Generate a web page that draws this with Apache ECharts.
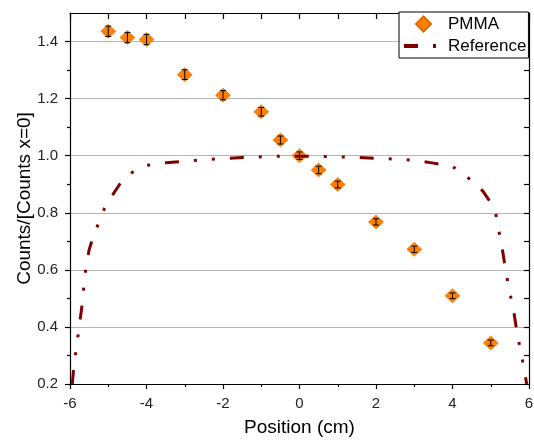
<!DOCTYPE html>
<html>
<head>
<meta charset="utf-8">
<script src="https://cdn.jsdelivr.net/npm/echarts@6/dist/echarts.min.js"></script>
<style>
  html, body { margin: 0; padding: 0; background: #fff; }
  #chart { width: 534px; height: 441px; }
</style>
</head>
<body>
<div id="chart"></div>
<script>
// Measured PMMA profile, normalised to the count at x = 0
const pmmaX   = [-5, -4.5, -4, -3, -2, -1, -0.5, 0, 0.5, 1, 2, 3, 4, 5];
const pmmaY   = [1.436, 1.414, 1.407, 1.284, 1.212, 1.154, 1.055, 1.0, 0.95, 0.899, 0.768, 0.672, 0.509, 0.344];
const pmmaErr = [0.018, 0.018, 0.018, 0.017, 0.016, 0.015, 0.014, 0.013, 0.013, 0.012, 0.011, 0.011, 0.010, 0.010];

// Reference profile
const refX = [-5.94, -5.9, -5.8, -5.7, -5.6, -5.5, -5.4, -5.25, -5.1, -4.9, -4.7, -4.5, -4.3, -4.0, -3.5, -3.0, -2.5, -2.0, -1.5, -1.0, -0.5, 0, 0.5, 1.0, 1.5, 2.0, 2.5, 3.0, 3.5, 4.0, 4.3, 4.6, 4.8, 5.0, 5.12, 5.2, 5.3, 5.4, 5.5, 5.6, 5.7, 5.8, 5.9, 5.94];
const refY = [0.2, 0.26, 0.36, 0.46, 0.59, 0.67, 0.715, 0.764, 0.815, 0.86, 0.9, 0.93, 0.948, 0.966, 0.975, 0.981, 0.986, 0.99, 0.994, 0.996, 0.998, 0.998, 0.998, 0.996, 0.994, 0.991, 0.988, 0.984, 0.974, 0.962, 0.935, 0.9, 0.875, 0.835, 0.805, 0.745, 0.675, 0.59, 0.52, 0.455, 0.37, 0.305, 0.23, 0.2];

// Axis ticks
const xMajor = [-6, -4, -2, 0, 2, 4, 6];
const yMajor = [0.2, 0.4, 0.6, 0.8, 1.0, 1.2, 1.4];
const yMinor = [0.3, 0.5, 0.7, 0.9, 1.1, 1.3];

const FONT = '"Liberation Sans", Arial, sans-serif';
const ORANGE = '#ff8000';
const DARKRED = '#800000';

const pmmaData = pmmaX.map((x, i) => [x, pmmaY[i]]);
const errData = pmmaX.map((x, i) => [x, pmmaY[i] - pmmaErr[i], pmmaY[i] + pmmaErr[i]]);
const refData = refX.map((x, i) => [x, refY[i]]);

const axisLine = { show: true, onZero: false, lineStyle: { color: '#000', width: 1.2 } };

const chart = echarts.init(document.getElementById('chart'), null, { renderer: 'canvas' });
chart.setOption({
  backgroundColor: '#fff',
  animation: false,
  grid: { left: 70, right: 5, top: 13, bottom: 57, containLabel: false, outerBoundsMode: 'none' },
  legend: {
    orient: 'vertical',
    left: 399, top: 12,
    padding: [3, 2, 3, 3],
    itemGap: 4,
    itemWidth: 39, itemHeight: 15,
    backgroundColor: '#fff',
    borderColor: '#000', borderWidth: 1, borderRadius: 0,
    textStyle: { fontFamily: FONT, fontSize: 17, color: '#000', lineHeight: 18 },
    data: [
      { name: 'PMMA', icon: 'path://M0,-1L1,0L0,1L-1,0Z' },
      { name: 'Reference', itemStyle: { opacity: 0 }, lineStyle: { width: 4 } }
    ]
  },
  xAxis: [
    {
      type: 'value', position: 'bottom', min: -6, max: 6, interval: 2,
      name: 'Position (cm)', nameLocation: 'middle', nameGap: 34, nameMoveOverlap: false,
      nameTextStyle: { fontFamily: FONT, fontSize: 19, color: '#000' },
      axisLine,
      axisTick: { show: true, inside: false, length: 5, lineStyle: { color: '#000', width: 1.2 } },
      minorTick: { show: true, splitNumber: 2, length: 3, lineStyle: { color: '#000', width: 1.2 } },
      axisLabel: { fontFamily: FONT, fontSize: 15, color: '#222', margin: 12, customValues: xMajor },
      splitLine: { show: false }
    },
    {
      type: 'value', position: 'top', min: -6, max: 6, interval: 1,
      axisLine,
      axisTick: { show: true, inside: true, length: 6, lineStyle: { color: '#000', width: 1.2 } },
      axisLabel: { show: false },
      splitLine: { show: false }
    }
  ],
  yAxis: [
    {
      type: 'value', position: 'left', min: 0.2, max: 1.5, interval: 0.2,
      name: 'Counts/[Counts x=0]', nameLocation: 'middle', nameGap: 36, nameMoveOverlap: false,
      nameTextStyle: { fontFamily: FONT, fontSize: 19, color: '#000' },
      axisLine,
      axisTick: { show: true, inside: false, length: 5, customValues: yMajor, lineStyle: { color: '#000', width: 1.2 } },
      axisLabel: {
        fontFamily: FONT, fontSize: 15, color: '#222', margin: 12,
        customValues: yMajor, formatter: v => v.toFixed(1)
      },
      splitLine: { show: true, lineStyle: { color: '#b4b4b4', width: 1.2 } }
    },
    {
      // minor ticks on the left axis
      type: 'value', position: 'left', min: 0.2, max: 1.5,
      axisLine: { show: false, onZero: false },
      axisTick: { show: true, inside: false, length: 3, customValues: yMinor, lineStyle: { color: '#000', width: 1.2 } },
      axisLabel: { show: false },
      splitLine: { show: false }
    },
    {
      type: 'value', position: 'right', min: 0.2, max: 1.5, interval: 0.1,
      axisLine,
      axisTick: { show: true, inside: true, length: 5, lineStyle: { color: '#000', width: 1.2 } },
      axisLabel: { show: false },
      splitLine: { show: false }
    }
  ],
  series: [
    {
      name: 'PMMA', type: 'scatter', xAxisIndex: 0, yAxisIndex: 0,
      symbol: 'diamond', symbolSize: [15, 14],
      itemStyle: { color: ORANGE, borderColor: '#e06a00', borderWidth: 0.6, opacity: 1 },
      data: pmmaData, z: 2
    },
    {
      name: 'PMMA err', type: 'custom', xAxisIndex: 0, yAxisIndex: 0,
      data: errData, z: 3,
      renderItem: (params, api) => {
        const x = api.value(0);
        const lo = api.coord([x, api.value(1)]);
        const hi = api.coord([x, api.value(2)]);
        const hw = 3;
        const style = { stroke: '#000', lineWidth: 1 };
        return {
          type: 'group',
          children: [
            { type: 'line', shape: { x1: lo[0], y1: lo[1], x2: hi[0], y2: hi[1] }, style },
            { type: 'line', shape: { x1: lo[0] - hw, y1: lo[1], x2: lo[0] + hw, y2: lo[1] }, style },
            { type: 'line', shape: { x1: hi[0] - hw, y1: hi[1], x2: hi[0] + hw, y2: hi[1] }, style }
          ]
        };
      }
    },
    {
      name: 'Reference', type: 'line', xAxisIndex: 0, yAxisIndex: 0,
      data: refData, symbol: 'none', showSymbol: false, smooth: false, clip: true,
      lineStyle: { color: DARKRED, width: 3, type: [14, 15, 3, 15, 3, 15], cap: 'butt' },
      itemStyle: { color: DARKRED },
      z: 4
    }
  ]
});
</script>
</body>
</html>
